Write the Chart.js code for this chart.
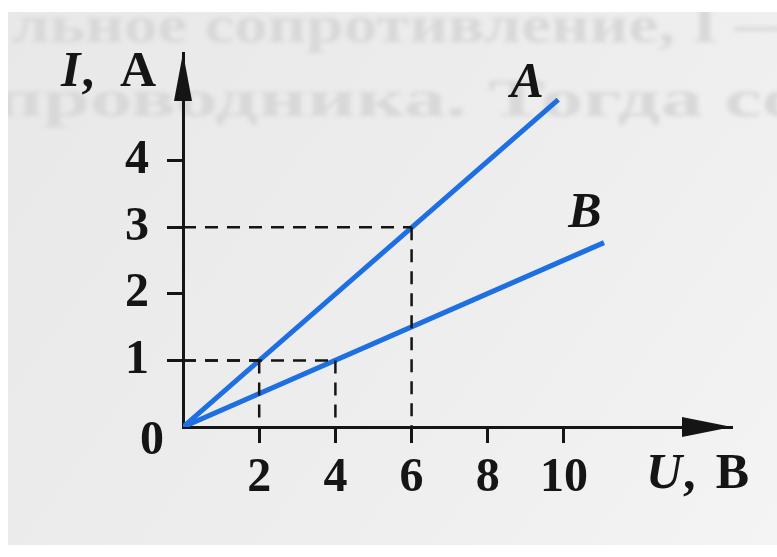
<!DOCTYPE html>
<html><head><meta charset="utf-8">
<script src="https://cdn.jsdelivr.net/npm/chart.js@4/dist/chart.umd.min.js"></script>
<style>html,body{margin:0;padding:0;background:#fff;}canvas{display:block;}</style>
</head><body>
<canvas id="c" width="777" height="557"></canvas>
<script>
// Current–voltage characteristics of two conductors, A and B
const voltageA = [0, 9.85];
const currentA = [0, 4.92];
const voltageB = [0, 11.05];
const currentB = [0, 2.77];
// reading guides: dashed projections of chosen points onto both axes
const guideU = [2, 4, 6];
const guideI = [1, 1, 3];
// tick labels
const uTicks = [2, 4, 6, 8, 10];
const iTicks = [1, 2, 3, 4];
const uMax = 14.41, iMax = 5.62;

const SERIF = '"Liberation Serif", "Times New Roman", serif';
const INK = '#151515';
const BLUE = '#1d6fe2';

const pts = (xs, ys) => xs.map((x, i) => ({ x: x, y: ys[i] }));

const guideSets = [];
guideU.forEach((u, i) => {
  guideSets.push(pts([0, u], [guideI[i], guideI[i]]));
  guideSets.push(pts([u, u], [guideI[i], 0]));
});

const datasets = guideSets.map(d => ({
  data: d, showLine: true, pointRadius: 0, borderColor: INK,
  borderWidth: 2.5, borderDash: [13, 9], fill: false
}));
datasets.push({ label: 'A', data: pts(voltageA, currentA), showLine: true, pointRadius: 0,
  borderColor: BLUE, borderWidth: 5, borderCapStyle: 'butt', fill: false });
datasets.push({ label: 'B', data: pts(voltageB, currentB), showLine: true, pointRadius: 0,
  borderColor: BLUE, borderWidth: 5, borderCapStyle: 'butt', fill: false });

// printed page: grey paper with faint show-through of the neighbouring text
const paper = {
  id: 'paper',
  beforeDraw(chart) {
    const c = chart.ctx;
    c.save();
    c.fillStyle = '#ffffff';
    c.fillRect(0, 0, chart.width, chart.height);
    const g = c.createLinearGradient(0, 0, chart.width, chart.height);
    g.addColorStop(0, '#e8e8e8');
    g.addColorStop(0.6, '#eeeeee');
    g.addColorStop(1, '#f4f4f4');
    c.fillStyle = g;
    c.fillRect(8, 12, chart.width - 8, 533);
    c.beginPath();
    c.rect(8, 12, chart.width - 8, 533);
    c.clip();
    c.filter = 'blur(2.2px)';
    c.fillStyle = '#d8d8d8';
    c.font = 'bold 52px ' + SERIF;
    c.textBaseline = 'alphabetic';
    function stretched(txt, x, y, w) {
      const k = w / c.measureText(txt).width;
      c.save();
      c.translate(x, y);
      c.scale(k, 1);
      c.fillText(txt, 0, 0);
      c.restore();
    }
    stretched('льное сопротивление, I —', 12, 42, 790);
    stretched('проводника. Тогда со', -6, 116, 810);
    c.restore();
  }
};

const decor = {
  id: 'decor',
  afterDraw(chart) {
    const c = chart.ctx, xs = chart.scales.x, ys = chart.scales.y;
    const x0 = xs.getPixelForValue(0), y0 = ys.getPixelForValue(0);
    const xEnd = xs.getPixelForValue(uMax), yEnd = ys.getPixelForValue(iMax);
    c.save();
    c.fillStyle = INK;
    // arrow heads
    c.beginPath();
    c.moveTo(x0, yEnd);
    c.lineTo(x0 - 9, yEnd + 48);
    c.lineTo(x0 + 9, yEnd + 48);
    c.closePath(); c.fill();
    c.beginPath();
    c.moveTo(xEnd, y0);
    c.lineTo(xEnd - 50, y0 - 10);
    c.lineTo(xEnd - 50, y0 + 10);
    c.closePath(); c.fill();

    c.textBaseline = 'middle';
    const bold = 'bold 50px ' + SERIF, ital = 'italic bold 50px ' + SERIF;
    // origin
    c.font = 'bold 48px ' + SERIF; c.textAlign = 'center';
    c.fillText('0', x0 - 31, y0 + 15);

    // axis titles: italic quantity, comma, upright unit
    function title(sym, unit, left, right, cy) {
      c.textAlign = 'left';
      c.font = ital; c.fillText(sym, left, cy);
      const w = c.measureText(sym).width;
      c.font = bold; c.fillText(',', left + w + 1, cy);
      c.textAlign = 'right';
      c.fillText(unit, right, cy);
    }
    title('I', 'A', x0 - 122, x0 - 27, yEnd + 20);
    title('U', 'B', xs.getPixelForValue(uMax) - 86, xs.getPixelForValue(uMax) + 17, y0 + 48);

    // curve names next to the line ends
    c.font = ital; c.textAlign = 'center';
    const aX = xs.getPixelForValue(voltageA[voltageA.length - 1]);
    const aY = ys.getPixelForValue(currentA[currentA.length - 1]);
    c.fillText('A', aX - 31, aY - 16);
    const bX = xs.getPixelForValue(voltageB[voltageB.length - 1]);
    const bY = ys.getPixelForValue(currentB[currentB.length - 1]);
    c.fillText('B', bX - 19, bY - 29);
    c.restore();
  }
};

const tickFont = { family: SERIF, size: 48, weight: 'bold' };

new Chart(document.getElementById('c'), {
  type: 'scatter',
  data: { datasets: datasets },
  options: {
    responsive: false,
    animation: false,
    events: [],
    layout: { padding: { top: 53, right: 45, left: 0, bottom: 0 } },
    plugins: { legend: { display: false }, tooltip: { enabled: false } },
    scales: {
      x: {
        type: 'linear', min: 0, max: uMax,
        afterBuildTicks: s => { s.ticks = uTicks.map(v => ({ value: v })); },
        afterFit: s => { s.height = 130; },
        grid: { drawOnChartArea: false, drawTicks: true, tickLength: 16, tickWidth: 3, tickColor: INK },
        border: { display: true, color: INK, width: 3 },
        ticks: { font: tickFont, color: INK, padding: 7, maxRotation: 0, autoSkip: false }
      },
      y: {
        type: 'linear', min: 0, max: iMax,
        afterBuildTicks: s => { s.ticks = iTicks.map(v => ({ value: v })); },
        afterFit: s => { s.width = 183; },
        grid: { drawOnChartArea: false, drawTicks: true, tickLength: 16, tickWidth: 3, tickColor: INK },
        border: { display: true, color: INK, width: 3 },
        ticks: { font: tickFont, color: INK, padding: 18, autoSkip: false }
      }
    }
  },
  plugins: [paper, decor]
});
</script>
</body></html>
